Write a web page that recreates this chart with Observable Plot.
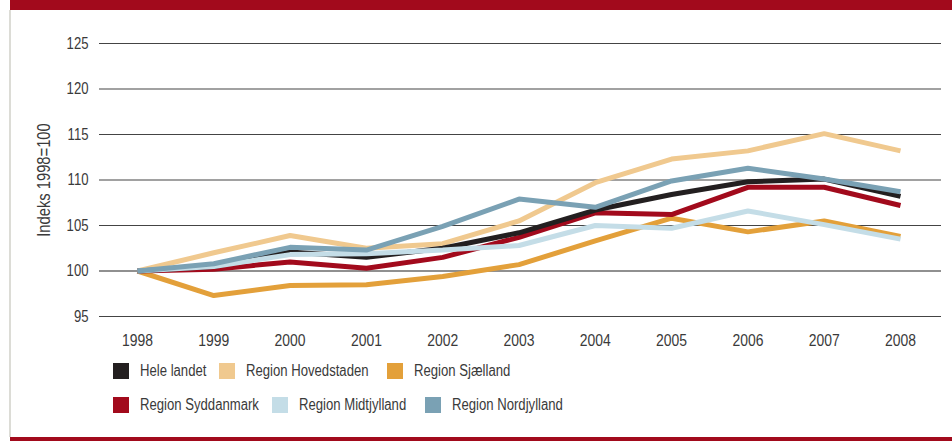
<!DOCTYPE html>
<html>
<head>
<meta charset="utf-8">
<script src="https://cdn.jsdelivr.net/npm/d3@7"></script>
<script src="https://cdn.jsdelivr.net/npm/@observablehq/plot@0.6"></script>
<style>
  html, body { margin: 0; padding: 0; background: #fff; }
  body { width: 952px; height: 441px; position: relative; overflow: hidden; font-family: "Liberation Sans", Arial, sans-serif; }
  #topbar { position: absolute; left: 10px; top: 0; width: 942px; height: 10px; background: #a20a1c; }
  #botbar { position: absolute; left: 10px; top: 437px; width: 942px; height: 4px; background: #a20a1c; }
  #leftline { position: absolute; left: 9px; top: 10px; width: 2px; height: 427px; background: #dcdcd6; }
  #chart { position: absolute; left: 0; top: 0; }
  #legend { position: absolute; left: 0; top: 0; width: 952px; height: 441px; pointer-events: none; }
  .item { position: absolute; display: flex; align-items: center; font-size: 16px; color: #3a3a3a; white-space: nowrap; }
  .sw { width: 16px; height: 16px; margin-right: 11px; flex: none; }
  .lt { display: inline-block; transform: scaleX(0.82); transform-origin: 0 50%; }
</style>
</head>
<body>
<div id="topbar"></div>
<div id="leftline"></div>
<div id="botbar"></div>
<div id="chart"></div>
<div id="legend"></div>
<script>
const years = [1998, 1999, 2000, 2001, 2002, 2003, 2004, 2005, 2006, 2007, 2008];
const seriesNames = ["Hele landet", "Region Hovedstaden", "Region Sjælland", "Region Syddanmark", "Region Midtjylland", "Region Nordjylland"];
const seriesColors = ["#231f20", "#f0c98f", "#e3a03a", "#a20a1c", "#c4dde7", "#7aa1b4"];
const heleLandet   = [100, 100.5, 102.1, 101.5, 102.5, 104.2, 106.7, 108.4, 109.8, 110.1, 108.2];
const hovedstaden  = [100, 102.0, 103.9, 102.5, 103.0, 105.5, 109.7, 112.3, 113.2, 115.1, 113.2];
const sjaelland    = [100, 97.3, 98.4, 98.5, 99.4, 100.7, 103.3, 105.8, 104.3, 105.5, 103.8];
const syddanmark   = [100, 100.2, 101.0, 100.3, 101.5, 103.7, 106.4, 106.2, 109.2, 109.2, 107.2];
const midtjylland  = [100, 100.5, 101.8, 101.9, 102.3, 102.8, 105.0, 104.7, 106.6, 105.1, 103.5];
const nordjylland  = [100, 100.8, 102.6, 102.3, 104.9, 107.9, 107.0, 109.9, 111.3, 110.1, 108.7];
const yTicks = [95, 100, 105, 110, 115, 120, 125];
const yLabel = "Indeks 1998=100";

const seriesValues = [heleLandet, hovedstaden, sjaelland, syddanmark, midtjylland, nordjylland];
// drawing order (later on top)
const drawOrder = [1, 2, 3, 0, 4, 5];
const data = [];
for (const i of drawOrder) {
  years.forEach((y, j) => data.push({series: seriesNames[i], year: y, value: seriesValues[i][j]}));
}

const font = "'Liberation Sans', Arial, sans-serif";
const plot = Plot.plot({
  width: 952,
  height: 355,
  marginTop: 43,
  marginBottom: 39,
  marginLeft: 137,
  marginRight: 52,
  style: {fontFamily: font, fontSize: "16px", color: "#3a3a3a", background: "transparent"},
  x: {domain: [1998, 2008], ticks: years, tickFormat: d => String(d)},
  y: {domain: [95, 125], ticks: yTicks},
  color: {domain: seriesNames, range: seriesColors},
  marks: [
    Plot.ruleY(yTicks, {stroke: d => d === 100 ? "#222" : "#444", strokeWidth: 1.2, insetLeft: -38, insetRight: -41}),
    Plot.axisY({ticks: yTicks, tickSize: 0, tickPadding: 49, label: null, fontSize: 16}),
    Plot.axisX({ticks: years, tickSize: 0, tickPadding: 17, label: null, fontSize: 17, tickFormat: d => String(d)}),
    Plot.text([yLabel], {frameAnchor: "left", textAnchor: "middle", dx: -93, rotate: -90, text: d => d, fontSize: 18, fill: "#3a3a3a"}),
    Plot.line(data, {x: "year", y: "value", z: "series", stroke: "series", strokeWidth: 5, strokeLinejoin: "miter", strokeLinecap: "butt"})
  ]
});
document.getElementById("chart").appendChild(plot);

// condense all text horizontally (narrow face look) around each text's own anchor
d3.select(plot).selectAll("text").each(function() {
  const tr = this.getAttribute("transform");
  if (tr) {
    this.setAttribute("transform", tr + " scale(0.82,1)");
  } else {
    const x = +(this.getAttribute("x") || 0), y = +(this.getAttribute("y") || 0);
    this.setAttribute("transform", `translate(${x},${y}) scale(0.82,1) translate(${-x},${-y})`);
  }
});

// legend
const legendPos = [
  {left: 113, top: 363}, {left: 219, top: 363}, {left: 387, top: 363},
  {left: 113, top: 397}, {left: 272, top: 397}, {left: 425, top: 397}
];
const legend = document.getElementById("legend");
seriesNames.forEach((name, i) => {
  const item = document.createElement("div");
  item.className = "item";
  item.style.left = legendPos[i].left + "px";
  item.style.top = legendPos[i].top + "px";
  item.style.height = "16px";
  const sw = document.createElement("div");
  sw.className = "sw";
  sw.style.background = seriesColors[i];
  const t = document.createElement("span");
  t.className = "lt";
  t.textContent = name;
  item.appendChild(sw);
  item.appendChild(t);
  legend.appendChild(item);
});
</script>
</body>
</html>
